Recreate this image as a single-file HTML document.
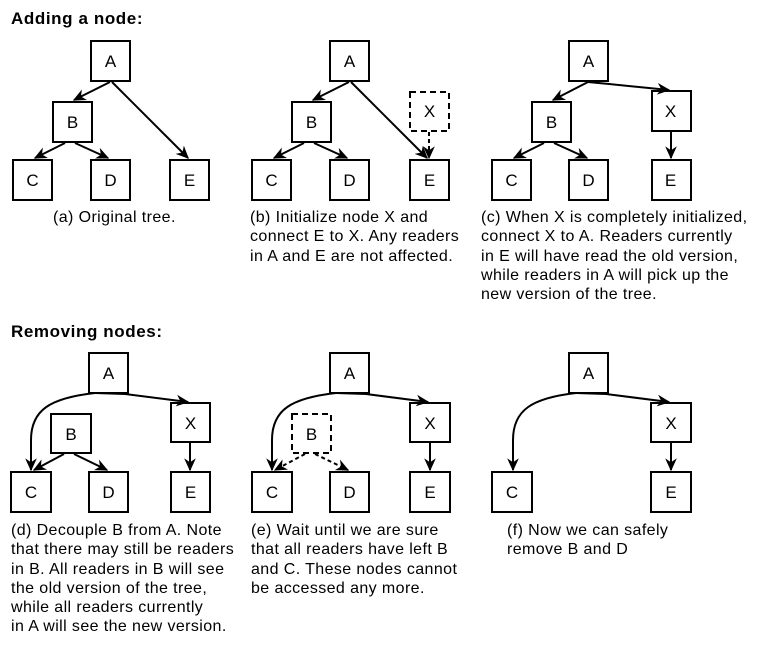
<!DOCTYPE html>
<html><head><meta charset="utf-8"><style>
body{margin:0;background:#fff;width:781px;height:648px;overflow:hidden;font-family:"Liberation Sans",Arial,sans-serif;}
svg{position:absolute;left:0;top:0}
.t{position:absolute;font-size:16px;letter-spacing:0.4px;line-height:19.3px;color:#000;white-space:nowrap}
.h{position:absolute;font-size:17px;letter-spacing:0.6px;font-weight:bold}
</style></head><body>
<svg width="781" height="648" viewBox="0 0 781 648">
<defs>
<marker id="a2" viewBox="0 0 10 10" refX="9" refY="5" markerWidth="13" markerHeight="13" orient="auto" markerUnits="userSpaceOnUse">
<path d="M0,0.5 L10,5 L0,9.5 L3,5 z" fill="#000"/></marker>
</defs>
<g fill="none" stroke="#000" stroke-width="2">
<g>
<rect x="91" y="41" width="39" height="40" fill="#fff"/>
<rect x="53" y="102" width="39" height="40" fill="#fff"/>
<rect x="13" y="160" width="39" height="40" fill="#fff"/>
<rect x="91" y="160" width="39" height="40" fill="#fff"/>
<rect x="170" y="160" width="39" height="40" fill="#fff"/>
<line x1="110" y1="82" x2="74" y2="100" marker-end="url(#a2)"/>
<line x1="112" y1="82" x2="188" y2="158" marker-end="url(#a2)"/>
<line x1="65" y1="143" x2="35" y2="158" marker-end="url(#a2)"/>
<line x1="75" y1="143" x2="108" y2="158" marker-end="url(#a2)"/>
</g>
<g transform="translate(239,0)">
<rect x="91" y="41" width="39" height="40" fill="#fff"/>
<rect x="53" y="102" width="39" height="40" fill="#fff"/>
<rect x="13" y="160" width="39" height="40" fill="#fff"/>
<rect x="91" y="160" width="39" height="40" fill="#fff"/>
<rect x="171" y="160" width="39" height="40" fill="#fff"/>
<rect x="171" y="92" width="39" height="39" fill="#fff" stroke-dasharray="6,4"/>
<line x1="110" y1="82" x2="74" y2="100" marker-end="url(#a2)"/>
<line x1="112" y1="82" x2="188" y2="158" marker-end="url(#a2)"/>
<line x1="65" y1="143" x2="35" y2="158" marker-end="url(#a2)"/>
<line x1="75" y1="143" x2="108" y2="158" marker-end="url(#a2)"/>
<line x1="190" y1="132" x2="190" y2="158" stroke-dasharray="4,3" marker-end="url(#a2)"/>
</g>
<g transform="translate(479,0)">
<rect x="90" y="41" width="39" height="40" fill="#fff"/>
<rect x="53" y="102" width="39" height="40" fill="#fff"/>
<rect x="13" y="160" width="39" height="40" fill="#fff"/>
<rect x="90" y="160" width="39" height="40" fill="#fff"/>
<rect x="173" y="91" width="39" height="40" fill="#fff"/>
<rect x="173" y="160" width="39" height="40" fill="#fff"/>
<line x1="109" y1="82" x2="74" y2="100" marker-end="url(#a2)"/>
<path d="M109,82 L130,84 L190,90" marker-end="url(#a2)"/>
<line x1="65" y1="143" x2="35" y2="158" marker-end="url(#a2)"/>
<line x1="75" y1="143" x2="108" y2="158" marker-end="url(#a2)"/>
<line x1="192" y1="132" x2="192" y2="158" marker-end="url(#a2)"/>
</g>
<g>
<rect x="89" y="353" width="39" height="40" fill="#fff"/>
<rect x="51" y="414" width="40" height="39" fill="#fff"/>
<rect x="11" y="472" width="40" height="40" fill="#fff"/>
<rect x="89" y="472" width="39" height="40" fill="#fff"/>
<rect x="171" y="403" width="39" height="39" fill="#fff"/>
<rect x="171" y="472" width="39" height="40" fill="#fff"/>
<path d="M95,393 C50,398 31,410 31,440 L31,470" marker-end="url(#a2)"/>
<path d="M95,393 L125,394 L188,402" marker-end="url(#a2)"/>
<line x1="64" y1="454" x2="34" y2="470" marker-end="url(#a2)"/>
<line x1="74" y1="454" x2="107" y2="470" marker-end="url(#a2)"/>
<line x1="190" y1="443" x2="190" y2="470" marker-end="url(#a2)"/>
</g>
<g transform="translate(241,0)">
<rect x="89" y="353" width="39" height="40" fill="#fff"/>
<rect x="51" y="414" width="39" height="39" fill="#fff" stroke-dasharray="6,4"/>
<rect x="11" y="472" width="40" height="40" fill="#fff"/>
<rect x="89" y="472" width="39" height="40" fill="#fff"/>
<rect x="169" y="403" width="40" height="39" fill="#fff"/>
<rect x="169" y="472" width="40" height="40" fill="#fff"/>
<path d="M95,393 C50,398 31,410 31,440 L31,470" marker-end="url(#a2)"/>
<path d="M95,393 L125,394 L187,402" marker-end="url(#a2)"/>
<line x1="64" y1="454" x2="34" y2="470" stroke-dasharray="4,3" marker-end="url(#a2)"/>
<line x1="74" y1="454" x2="107" y2="470" stroke-dasharray="4,3" marker-end="url(#a2)"/>
<line x1="189" y1="443" x2="189" y2="470" marker-end="url(#a2)"/>
</g>
<g transform="translate(480,0)">
<rect x="89" y="353" width="39" height="40" fill="#fff"/>
<rect x="12" y="472" width="40" height="40" fill="#fff"/>
<rect x="171" y="403" width="40" height="39" fill="#fff"/>
<rect x="171" y="472" width="40" height="40" fill="#fff"/>
<path d="M96,393 C52,398 33,410 33,440 L33,470" marker-end="url(#a2)"/>
<path d="M96,393 L126,394 L189,402" marker-end="url(#a2)"/>
<line x1="191" y1="443" x2="191" y2="470" marker-end="url(#a2)"/>
</g>
</g>
<g font-family="Liberation Sans, Arial, sans-serif" font-size="17" text-anchor="middle" fill="#000">
<text x="110.5" y="67">A</text><text x="72.5" y="128">B</text><text x="32.5" y="186">C</text><text x="110.5" y="186">D</text><text x="189.5" y="186">E</text>
<text x="349.5" y="67">A</text><text x="311.5" y="128">B</text><text x="271.5" y="186">C</text><text x="349.5" y="186">D</text><text x="429.5" y="186">E</text><text x="429.5" y="117">X</text>
<text x="588.5" y="67">A</text><text x="551.5" y="128">B</text><text x="511.5" y="186">C</text><text x="588.5" y="186">D</text><text x="670.5" y="117">X</text><text x="670.5" y="186">E</text>
<text x="108.5" y="379">A</text><text x="71" y="440">B</text><text x="31" y="498">C</text><text x="108.5" y="498">D</text><text x="190.5" y="429">X</text><text x="190.5" y="498">E</text>
<text x="349.5" y="379">A</text><text x="311.5" y="440">B</text><text x="272" y="498">C</text><text x="349.5" y="498">D</text><text x="430" y="429">X</text><text x="430" y="498">E</text>
<text x="588.5" y="379">A</text><text x="512" y="498">C</text><text x="671" y="429">X</text><text x="671" y="498">E</text>
</g>
</svg>
<div class="h" style="left:11px;top:9px">Adding a node:</div>
<div class="h" style="left:11px;top:322px">Removing nodes:</div>
<div class="t" style="left:53px;top:208px">(a) Original tree.</div>
<div class="t" style="left:250px;top:208px">(b) Initialize node X and<br>connect E to X. Any readers<br>in A and E are not affected.</div>
<div class="t" style="left:481px;top:208px">(c) When X is completely initialized,<br>connect X to A. Readers currently<br>in E will have read the old version,<br>while readers in A will pick up the<br>new version of the tree.</div>
<div class="t" style="left:11px;top:521px">(d) Decouple B from A. Note<br>that there may still be readers<br>in B. All readers in B will see<br>the old version of the tree,<br>while all readers currently<br>in A will see the new version.</div>
<div class="t" style="left:251px;top:521px">(e) Wait until we are sure<br>that all readers have left B<br>and C. These nodes cannot<br>be accessed any more.</div>
<div class="t" style="left:507px;top:521px">(f) Now we can safely<br>remove B and D</div>
</body></html>
